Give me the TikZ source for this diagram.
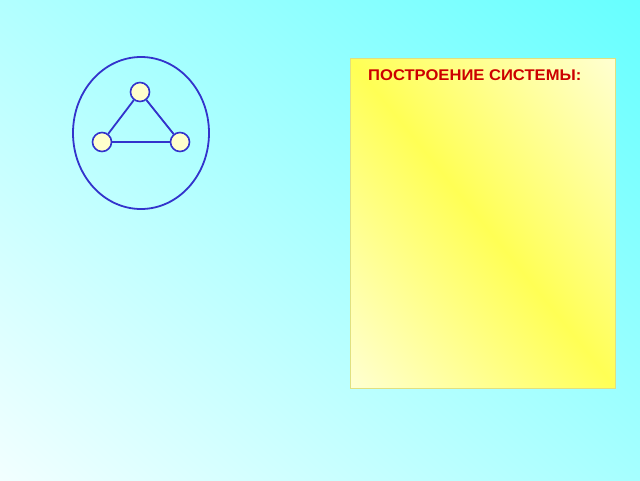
\documentclass[tikz,border=0pt]{standalone}
\usepackage{fontspec}
\usepackage{graphicx}
\setmainfont{Liberation Sans}
\begin{document}
\begin{tikzpicture}[x=1pt,y=-1pt,
  sysline/.style={draw=blueline,line width=1.8pt},
  elem/.style={circle,draw=blueline,line width=1.6pt,fill=elemfill,minimum size=19pt,inner sep=0pt},
  title/.style={anchor=base west,font=\bfseries\fontsize{15.5}{18}\selectfont,text=titlered,inner sep=0pt}]
\definecolor{blueline}{HTML}{3333CC}
\definecolor{elemfill}{HTML}{FFFFCC}
\definecolor{titlered}{HTML}{CC0000}
\definecolor{bgcyan}{HTML}{66FFFF}
\definecolor{bgwhite}{HTML}{F2FFFF}
\definecolor{boxlight}{HTML}{FFFFD2}
\definecolor{boxyellow}{HTML}{FFFF55}
\definecolor{boxborder}{HTML}{E0E080}
\useasboundingbox (0,0) rectangle (640,480);
% background
\begin{scope}
\clip (0,0) rectangle (640,480);
\begin{scope}[transform canvas={rotate around={48:(320,240)}}]
\shade[left color=bgwhite,right color=bgcyan] (320-393,240-400) rectangle (320+393,240+400);
\end{scope}
\end{scope}
% box
\begin{scope}
\clip (350,58) rectangle (615,388);
\begin{scope}[transform canvas={rotate around={39:(482.5,223)}}]
\shade[left color=boxlight,right color=boxlight,middle color=boxyellow]
  (482.5-207,223-215) rectangle (482.5+207,223+215);
\end{scope}
\end{scope}
\draw[boxborder,line width=1pt] (350,58) rectangle (615,388);
\node[title] (t) at (368,80.5) {\scalebox{1.07}[1]{ПОСТРОЕНИЕ СИСТЕМЫ:}};
% system
\draw[sysline] (141,133) ellipse [x radius=68,y radius=76];
\node[elem] (a) at (140,92) {};
\node[elem] (b) at (102,142) {};
\node[elem] (c) at (180,142) {};
\draw[sysline] (a) -- (b);
\draw[sysline] (a) -- (c);
\draw[sysline] (b) -- (c);
\end{tikzpicture}
\end{document}
